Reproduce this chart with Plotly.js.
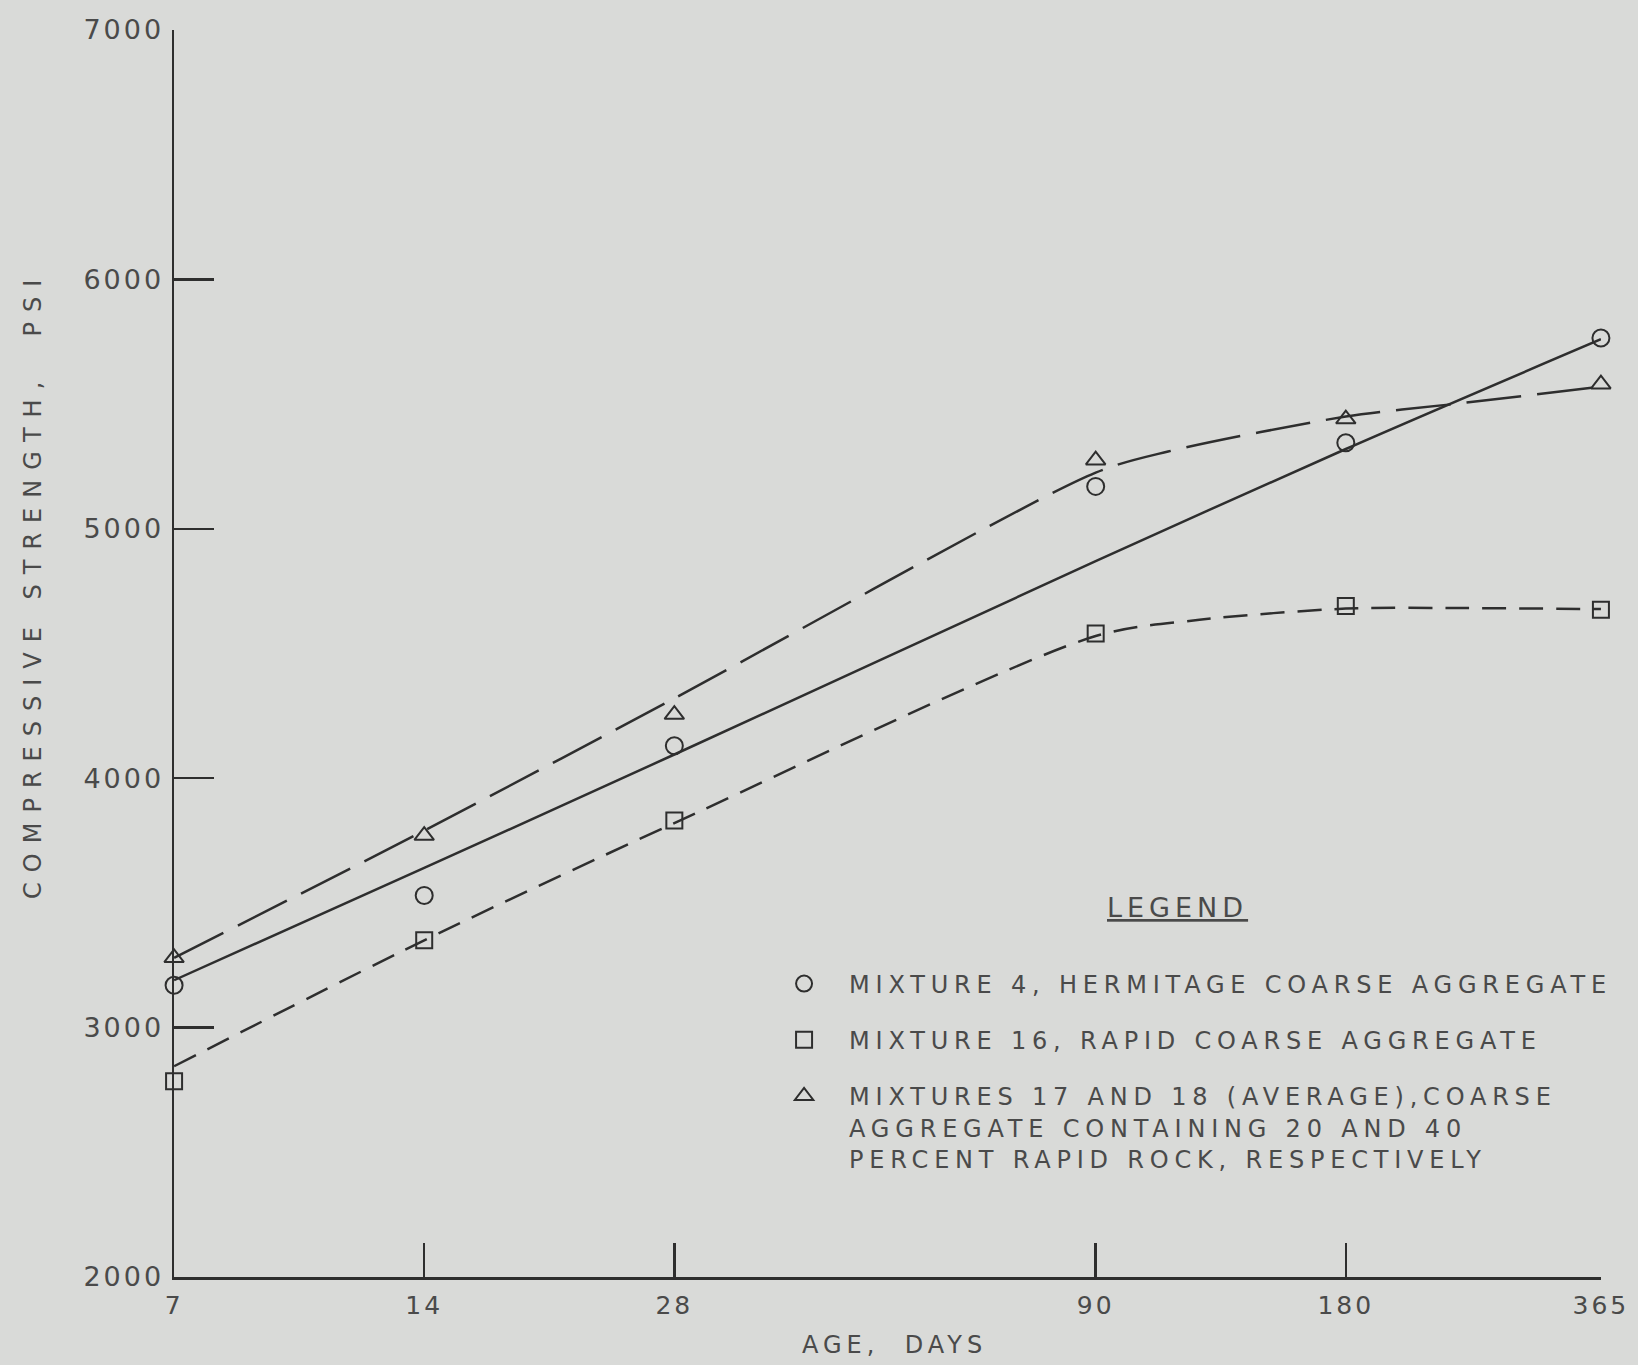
<!DOCTYPE html>
<html>
<head>
<meta charset="utf-8">
<script src="https://cdn.plot.ly/plotly-3.0.1.min.js"></script>
<style>
body{margin:0;background:#d9dad8;}
.legendtext{letter-spacing:5.8px;}
.xtick text,.ytick text{letter-spacing:3px;}
.annotation[data-index="0"] text{letter-spacing:5px;}
.annotation[data-index="1"] text{letter-spacing:10px;}
.annotation[data-index="2"] text{letter-spacing:5px;}
</style>
</head>
<body>
<div id="chart" style="width:1638px;height:1365px;"></div>
<script>
// Ages (days) at which specimens were tested
const ages = [7, 14, 28, 90, 180, 365];
const xTickLabels = ['7', '14', '28', '90', '180', '365'];
const yTicks = [2000, 3000, 4000, 5000, 6000, 7000];

// Measured compressive strength, psi
const mix4 = [3170, 3530, 4130, 5170, 5345, 5765];
const mix16 = [2785, 3350, 3830, 4580, 4690, 4675];
const mix1718 = [3280, 3770, 4255, 5275, 5440, 5580];

// Hand-faired curves
const fit4Ages = [7, 14, 28, 90, 180, 365];
const fit4 = [3190, 3640, 4095, 4870, 5320, 5760];
const fit16Ages = [7, 14, 28, 90, 120, 180, 250, 365];
const fit16 = [2845, 3350, 3820, 4570, 4635, 4680, 4682, 4678];
const fit1718Ages = [7, 14, 28, 90, 110, 180, 250, 365];
const fit1718 = [3280, 3790, 4320, 5225, 5310, 5450, 5505, 5570];

const legendNames = [
  'MIXTURE 4, HERMITAGE COARSE AGGREGATE',
  'MIXTURE 16, RAPID COARSE AGGREGATE',
  'MIXTURES 17 AND 18 (AVERAGE),COARSE<br>AGGREGATE CONTAINING 20 AND 40<br>PERCENT RAPID ROCK, RESPECTIVELY'
];

const ink = '#2e2e2e';
const textCol = '#4a4a4a';
const FONT = 'DejaVu Sans, sans-serif';
const eps = 1e-4;

const traces = [
  {x: fit4Ages, y: fit4, mode: 'lines', line: {color: ink, width: 2.5, shape: 'spline', smoothing: 0.8}, showlegend: false, hoverinfo: 'skip'},
  {x: fit16Ages, y: fit16, mode: 'lines', line: {color: ink, width: 2.5, dash: '24px,13px', shape: 'spline', smoothing: 0.8}, showlegend: false, hoverinfo: 'skip'},
  {x: fit1718Ages, y: fit1718, mode: 'lines', line: {color: ink, width: 2.5, dash: '55px,16px', shape: 'spline', smoothing: 0.8}, showlegend: false, hoverinfo: 'skip'},
  {x: ages, y: mix4, mode: 'markers', name: legendNames[0], legendgroup: 'a', cliponaxis: false,
   marker: {symbol: 'circle-open', size: 17, color: ink, line: {width: 2, color: ink}}},
  {x: ages, y: mix16, mode: 'markers', name: legendNames[1], legendgroup: 'b', cliponaxis: false,
   marker: {symbol: 'square-open', size: 16, color: ink, line: {width: 2, color: ink}}},
  {x: ages, y: mix1718, mode: 'markers', name: legendNames[2], legendgroup: 'c', cliponaxis: false,
   marker: {symbol: 'triangle-up-open', size: 17, color: ink, line: {width: 2, color: ink}}}
];

const layout = {
  width: 1638, height: 1365,
  paper_bgcolor: '#d9dad8', plot_bgcolor: '#d9dad8',
  margin: {l: 174, r: 37, t: 30, b: 88},
  font: {family: FONT, color: textCol, size: 22},
  showlegend: true,
  legend: {
    x: 0.41, y: 0.253, xanchor: 'left', yanchor: 'top',
    bgcolor: 'rgba(0,0,0,0)', borderwidth: 0,
    font: {family: FONT, size: 24, color: textCol},
    traceorder: 'grouped', tracegroupgap: 22, valign: 'top', itemwidth: 80
  },
  xaxis: {
    type: 'log', range: [Math.log10(7) - eps, Math.log10(365) + eps],
    tickvals: ages, ticktext: xTickLabels,
    ticks: 'inside', ticklen: 34, tickwidth: 2.5, tickcolor: ink,
    showline: true, linecolor: ink, linewidth: 2.5,
    showgrid: false, zeroline: false,
    ticklabelstandoff: 4,
    tickfont: {family: FONT, size: 25, color: textCol}
  },
  yaxis: {
    range: [2000, 7000], tickvals: yTicks,
    ticks: 'inside', ticklen: 40, tickwidth: 2.5, tickcolor: ink,
    showline: true, linecolor: ink, linewidth: 2.5,
    showgrid: false, zeroline: false,
    ticklabelstandoff: 2,
    tickfont: {family: FONT, size: 27, color: textCol}
  },
  annotations: [
    {text: 'AGE,  DAYS', xref: 'paper', yref: 'paper', x: 0.505, y: -0.0545, xanchor: 'center', yanchor: 'middle',
     showarrow: false, font: {family: FONT, size: 24, color: textCol}},
    {text: 'COMPRESSIVE STRENGTH,  PSI', xref: 'paper', yref: 'paper', x: -0.0988, y: 0.555, xanchor: 'center', yanchor: 'middle',
     textangle: -90, showarrow: false, font: {family: FONT, size: 24, color: textCol}},
    {text: '<u>LEGEND</u>', xref: 'paper', yref: 'paper', x: 0.703, y: 0.296, xanchor: 'center', yanchor: 'middle',
     showarrow: false, font: {family: FONT, size: 27, color: textCol}}
  ]
};

Plotly.newPlot('chart', traces, layout, {displayModeBar: false, staticPlot: true});
</script>
</body>
</html>
